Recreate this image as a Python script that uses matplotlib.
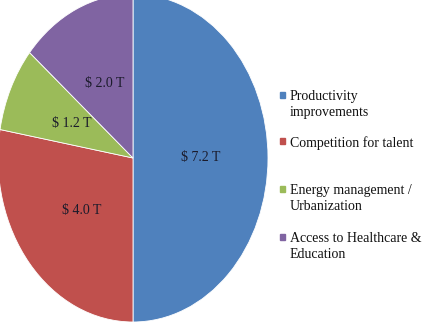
import matplotlib.pyplot as plt
from matplotlib.patches import Rectangle

plt.rcParams['font.family'] = ['Liberation Serif', 'DejaVu Serif']

# market value by opportunity, trillions of dollars
categories = ['Productivity\nimprovements', 'Competition for talent',
              'Energy management /\nUrbanization', 'Access to Healthcare &\nEducation']
values = [7.2, 4.0, 1.2, 2.0]
colors = ['#4F81BD', '#C0504D', '#9BBB59', '#8064A2']

W, H = 429, 322
fig = plt.figure(figsize=(W / 100, H / 100), dpi=100)

# pie is stretched vertically and slightly cropped, like the source
cx, cy, rx, ry = 133, 158, 135, 164
ax = fig.add_axes([(cx - rx) / W, 1 - (cy + ry) / H, 2 * rx / W, 2 * ry / H])
total = sum(values)
wedges, texts, autotexts = ax.pie(
    values, colors=colors, startangle=90, counterclock=False,
    autopct=lambda p: '$ %.1f T' % (p * total / 100), pctdistance=0.5,
    wedgeprops=dict(edgecolor='white', linewidth=0.6),
    textprops=dict(fontsize=10, color='#1b1b2b'))
ax.set_aspect('auto')
ax.set_xlim(-1, 1)
ax.set_ylim(-1, 1)

# legend drawn by hand so squares line up with the first text line
ys = [95, 141, 189, 237]
for lab, col, y in zip(categories, colors, ys):
    fig.patches.append(Rectangle((280 / W, 1 - (y + 3) / H), 5 / W, 6 / H,
                                 transform=fig.transFigure, color=col))
    fig.text(290 / W, 1 - (y - 5) / H, lab, fontsize=10, va='top', ha='left',
             color='#111111', linespacing=1.3)

fig.savefig('out.png', dpi=100)
